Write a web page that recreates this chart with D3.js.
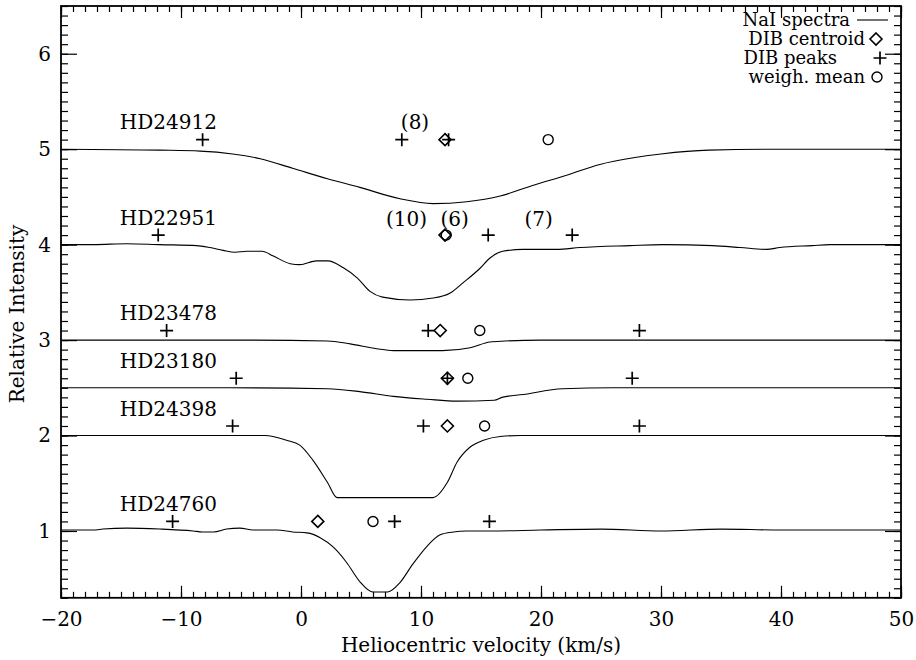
<!DOCTYPE html>
<html>
<head>
<meta charset="utf-8">
<script src="https://cdn.jsdelivr.net/npm/d3@7"></script>
<style>
  body { margin: 0; background: #fff; }
  svg text { font-family: "DejaVu Serif", serif; fill: #000; }
</style>
</head>
<body>
<svg id="chart" width="916" height="660"></svg>
<script>
// star names, baseline offset of each spectrum
var stars = ['HD24912', 'HD22951', 'HD23478', 'HD23180', 'HD24398', 'HD24760'];
var baselines = [5, 4, 3, 2.5, 2, 1];

// NaI spectra, [velocity, intensity]
var specHD24912 = [[-20, 5.00], [-11.75, 4.99], [-8.4, 4.98], [-5.7, 4.95], [-3.4, 4.90], [-0.7, 4.80],
    [2.2, 4.69], [4.9, 4.60], [8.25, 4.48], [11.0, 4.43], [13.8, 4.45], [16.6, 4.51], [19.3, 4.62],
    [22.2, 4.73], [24.9, 4.84], [27.7, 4.91], [30.0, 4.95], [34, 4.99], [40, 5.00], [50, 5.00]];
var specHD22951 = [[-20, 4.00], [-17.3, 4.00], [-14.5, 4.01], [-11.75, 4.00], [-8.7, 3.99], [-7.6, 3.97],
    [-6.5, 3.94], [-5.5, 3.92], [-4.5, 3.93], [-3.25, 3.93], [-2.3, 3.88], [-0.9, 3.80], [-0.1, 3.79],
    [1.3, 3.83], [2.25, 3.83], [3.5, 3.76], [4.7, 3.65], [5.75, 3.51], [6.8, 3.45], [9.1, 3.42],
    [11.0, 3.44], [12.4, 3.49], [13.5, 3.60], [14.9, 3.75], [15.75, 3.86], [16.8, 3.93], [18.5, 3.95],
    [21.3, 3.95], [23.25, 3.97], [27.4, 3.99], [30.2, 4.00], [34.3, 3.99], [36.6, 3.97], [38.8, 3.95],
    [39.9, 3.97], [42.6, 3.99], [44.1, 4.00], [50, 4.00]];
var specHD23478 = [[-20, 3.00], [-12, 3.00], [-6, 3.00], [2.2, 2.99], [4.1, 2.96], [6.3, 2.91], [7.7, 2.89],
    [11.8, 2.89], [14.1, 2.92], [15.75, 2.98], [17.0, 2.99], [20, 3.00], [30, 3.00], [40, 3.00], [50, 3.00]];
var specHD23180 = [[-20, 2.50], [-6, 2.50], [2.2, 2.49], [4.9, 2.46], [7.7, 2.41], [10.5, 2.38], [13, 2.36],
    [16.1, 2.37], [16.75, 2.40], [18.5, 2.43], [21.8, 2.49], [26, 2.50], [40, 2.50], [50, 2.50]];
var specHD24398 = [[-20, 2.00], [-5, 2.00], [-3, 2.00], [-1.2, 1.95], [-0.1, 1.90], [1.0, 1.74], [2.2, 1.51],
    [3.0, 1.35], [11.0, 1.35], [12.2, 1.51], [13.0, 1.72], [14.1, 1.88], [15.2, 1.95], [16.6, 1.99],
    [18.3, 2.00], [30, 2.00], [50, 2.00]];
var specHD24760 = [[-20, 1.01], [-17.3, 1.01], [-16.5, 1.02], [-14.5, 1.03], [-11.75, 1.02], [-9.0, 1.00],
    [-8.2, 0.99], [-7.3, 0.99], [-6.2, 1.02], [-5.1, 1.03], [-4.0, 1.01], [-2.0, 1.01], [-0.7, 0.99],
    [0.5, 0.98], [1.6, 0.93], [2.7, 0.83], [3.8, 0.67], [4.9, 0.47], [6.0, 0.36], [7.2, 0.36],
    [8.25, 0.46], [9.3, 0.65], [10.5, 0.84], [11.6, 0.96], [12.7, 0.99], [13.8, 1.00], [15.75, 1.00],
    [20, 1.01], [25, 1.02], [30, 1.00], [35, 1.02], [40, 1.01], [45, 1.01], [50, 1.01]];
var spectra = [specHD24912, specHD22951, specHD23478, specHD23180, specHD24398, specHD24760];

// DIB velocities per star (km/s)
var dibPeaks = [[-8.2, 8.4, 12.3], [-11.9, 15.6, 22.6], [-11.2, 10.6, 28.2], [-5.4, 12.2, 27.6],
    [-5.7, 10.2, 28.2], [-10.7, 7.8, 15.7]];
var dibCentroid = [12.0, 12.0, 11.6, 12.2, 12.2, 1.4];
var weighMean = [20.6, 12.1, 14.9, 13.9, 15.3, 6.0];

// reference numbers written above the markers
var refLabels = ['(8)', '(10)', '(6)', '(7)'];
var refVel = [9.5, 8.8, 12.8, 19.8];
var refLevel = [5.28, 4.27, 4.27, 4.27];

var legendLabels = ['NaI spectra', 'DIB centroid', 'DIB peaks', 'weigh. mean'];

var svg = d3.select('#chart');
var x = d3.scaleLinear().domain([-20, 50]).range([61, 901]);
var y = d3.scaleLinear().domain([0.3, 6.5]).range([597.8, 6]);

// axes: ticks point inwards on all four sides
function drawAxes() {
    var xMinor = d3.range(-20, 51, 1), xMajor = d3.range(-20, 51, 10);
    var yMinor = d3.range(3, 66, 1).map(function(d) { return d / 10; });
    var yMajor = [1, 2, 3, 4, 5, 6];

    svg.append('g').attr('transform', 'translate(0,' + y.range()[0] + ')')
        .call(d3.axisBottom(x).tickValues(xMinor).tickSize(-6).tickFormat(''));
    svg.append('g').attr('transform', 'translate(0,' + y.range()[0] + ')')
        .call(d3.axisBottom(x).tickValues(xMajor).tickSize(-12).tickPadding(14))
        .selectAll('text').attr('font-size', 20);
    svg.append('g').attr('transform', 'translate(0,' + y.range()[1] + ')')
        .call(d3.axisTop(x).tickValues(xMinor).tickSize(-6).tickFormat(''));
    svg.append('g').attr('transform', 'translate(0,' + y.range()[1] + ')')
        .call(d3.axisTop(x).tickValues(xMajor).tickSize(-12).tickFormat(''));

    svg.append('g').attr('transform', 'translate(' + x.range()[0] + ',0)')
        .call(d3.axisLeft(y).tickValues(yMinor).tickSize(-7).tickFormat(''));
    svg.append('g').attr('transform', 'translate(' + x.range()[0] + ',0)')
        .call(d3.axisLeft(y).tickValues(yMajor).tickSize(-16).tickPadding(10).tickFormat(d3.format('d')))
        .selectAll('text').attr('font-size', 20);
    svg.append('g').attr('transform', 'translate(' + x.range()[1] + ',0)')
        .call(d3.axisRight(y).tickValues(yMinor).tickSize(-7).tickFormat(''));
    svg.append('g').attr('transform', 'translate(' + x.range()[1] + ',0)')
        .call(d3.axisRight(y).tickValues(yMajor).tickSize(-16).tickFormat(''));

    svg.selectAll('.domain').remove();
    svg.selectAll('.tick line').attr('stroke', '#000').attr('stroke-width', 1.2);

    svg.append('rect')
        .attr('x', x.range()[0]).attr('y', y.range()[1])
        .attr('width', x.range()[1] - x.range()[0])
        .attr('height', y.range()[0] - y.range()[1])
        .attr('fill', 'none').attr('stroke', '#000').attr('stroke-width', 1.8);

    svg.append('text')
        .attr('x', 481).attr('y', 652)
        .attr('text-anchor', 'middle').attr('font-size', 20)
        .text('Heliocentric velocity (km/s)');
    svg.append('text')
        .attr('transform', 'translate(24,314) rotate(-90)')
        .attr('text-anchor', 'middle').attr('font-size', 20)
        .text('Relative Intensity');
}

function plus(g, cx, cy, s) {
    g.append('path')
        .attr('d', 'M' + (cx - s) + ',' + cy + 'H' + (cx + s) + 'M' + cx + ',' + (cy - s) + 'V' + (cy + s))
        .attr('stroke', '#000').attr('stroke-width', 1.7).attr('fill', 'none');
}
function diamond(g, cx, cy, s) {
    g.append('path')
        .attr('d', 'M' + cx + ',' + (cy - s) + 'L' + (cx + s) + ',' + cy + 'L' + cx + ',' + (cy + s) + 'L' + (cx - s) + ',' + cy + 'Z')
        .attr('stroke', '#000').attr('stroke-width', 1.6).attr('fill', 'none');
}
function circle(g, cx, cy, r) {
    g.append('circle').attr('cx', cx).attr('cy', cy).attr('r', r)
        .attr('stroke', '#000').attr('stroke-width', 1.4).attr('fill', 'none');
}

drawAxes();

var line = d3.line()
    .x(function(d) { return x(d[0]); })
    .y(function(d) { return y(d[1]); })
    .curve(d3.curveMonotoneX);

var plot = svg.append('g');
spectra.forEach(function(s) {
    plot.append('path').attr('d', line(s))
        .attr('fill', 'none').attr('stroke', '#000').attr('stroke-width', 1.1);
});

stars.forEach(function(name, i) {
    var level = baselines[i] + 0.1;
    plot.append('text')
        .attr('x', x(-15.1)).attr('y', y(baselines[i] + 0.28))
        .attr('dy', '0.35em').attr('font-size', 20)
        .text(name);
    diamond(plot, x(dibCentroid[i]), y(level), 6);
    circle(plot, x(weighMean[i]), y(level), 5);
    dibPeaks[i].forEach(function(v) { plus(plot, x(v), y(level), 6.5); });
});

refLabels.forEach(function(t, i) {
    plot.append('text')
        .attr('x', x(refVel[i])).attr('y', y(refLevel[i]))
        .attr('dy', '0.35em').attr('text-anchor', 'middle').attr('font-size', 20)
        .text(t);
});

// legend, top right
var legend = svg.append('g');
var rowY = [20, 39, 58, 77];
var textEnd = [850, 865, 837, 865];
legendLabels.forEach(function(t, i) {
    legend.append('text')
        .attr('x', textEnd[i]).attr('y', rowY[i])
        .attr('dy', '0.35em').attr('text-anchor', 'end').attr('font-size', 18)
        .text(t);
});
legend.append('line').attr('x1', 857).attr('x2', 888).attr('y1', rowY[0]).attr('y2', rowY[0])
    .attr('stroke', '#000').attr('stroke-width', 1.1);
diamond(legend, 876, rowY[1], 6);
plus(legend, 880, rowY[2], 6.5);
circle(legend, 877, rowY[3], 5);
</script>
</body>
</html>
